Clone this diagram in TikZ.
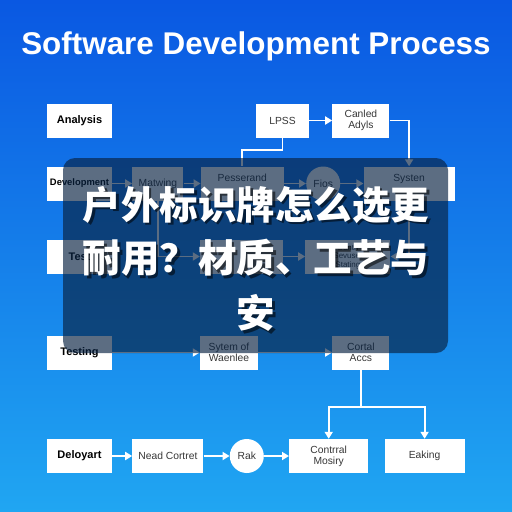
\documentclass[tikz,border=0pt]{standalone}
\usepackage{fontspec}
\setmainfont{Liberation Sans}
\newfontfamily\cjk{Noto Sans CJK SC}
\usepackage{xcolor}
\usetikzlibrary{arrows.meta,positioning,calc}
\definecolor{bgtop}{RGB}{10,88,226}
\definecolor{bgbot}{RGB}{32,166,242}
\definecolor{veil}{RGB}{8,34,66}
\definecolor{ink}{RGB}{55,55,55}
\tikzset{
  blk/.style={fill=white, align=center, inner sep=1pt, minimum height=34pt, text=ink, font=\fontsize{10.3}{11.3}\selectfont},
  stage/.style={blk, text=black, minimum width=65pt, font=\bfseries\fontsize{11}{12}\selectfont},
  ev/.style={circle, fill=white, minimum size=34pt, inner sep=0pt, text=ink, font=\fontsize{10.3}{11.3}\selectfont},
  fl/.style={draw=white, line width=1.8pt, -{Triangle[length=7pt,width=8pt]}},
  ln/.style={draw=white, line width=1.8pt},
  zh/.style={font=\cjk\bfseries\fontsize{38.5}{40}\selectfont},
}
\begin{document}
\begin{tikzpicture}[x=1pt,y=-1pt]
\shade[top color=bgtop, bottom color=bgbot] (0,0) rectangle (512,512);
\useasboundingbox (0,0) rectangle (512,512);
\node[anchor=base, text=white, font=\bfseries\fontsize{31.4}{34}\selectfont] (title) at (256,54) {Software Development Process};
% stage column
\node[stage] (ana) at (79.5,120.5) {Analysis};
\node[stage, font=\bfseries\fontsize{9.4}{11}\selectfont] (dev) at (79.5,183.5) {Development};
\node[stage] (tst) at (79.5,256.5) {Test};
\node[stage] (tsg) at (79.5,352.5) {Testing};
\node[stage] (dep) at (79.5,456) {Deloyart};
% analysis row
\node[blk, minimum width=53pt] (lpss) at (282.5,120.5) {LPSS};
\node[blk, minimum width=57pt, right=23pt of lpss] (canl) {Canled\\Adyls};
% development row
\node[blk, minimum width=51pt, right=20pt of dev] (matw) {Matwing};
\node[blk, minimum width=83pt, right=17pt of matw] (pess) {Pesserand\\\phantom{P}};
\node[ev, right=22pt of pess] (fios) {Fios};
\node[blk, minimum width=91pt, right=23pt of fios] (syst) {Systen\\\phantom{D}};
% test row
\node[blk, minimum width=83pt] (tbx) at (241.5,256.5) {};
\node[blk, minimum width=85pt, right=22pt of tbx, font=\fontsize{8}{8.5}\selectfont] (ctrl) {Contrl\\Sevuset\\Stating};
% testing row
\node[blk, minimum width=58pt] (sysw) at (229,352.5) {Sytem of\\Waenlee};
\node[blk, minimum width=57pt, right=74pt of sysw] (cort) {Cortal\\Accs};
% deployment row
\node[blk, minimum width=71pt, right=20pt of dep] (nead) {Nead Cortret};
\node[ev, right=26pt of nead] (rak) {Rak};
\node[blk, minimum width=79pt, right=25pt of rak] (cmos) {Contrral\\Mosiry};
\node[blk, minimum width=80pt, right=16pt of cmos] (eak) {Eaking};
% connectors
\draw[fl] (lpss)--(canl);
\draw[ln] (lpss.south)--++(0,12) -| (pess.north);
\draw[fl] (canl.east) -| (syst.north);
\draw[fl] (dev)--(matw);
\draw[fl] (matw)--(pess);
\draw[fl] (pess)--(fios);
\draw[fl] (fios)--(syst);
\draw[fl] (matw.south) |- (tbx.west);
\draw[fl] (tbx)--(ctrl);
\draw[fl] (syst.south) |- (ctrl.east);
\draw[fl] (tsg)--(sysw);
\draw[fl] (sysw)--(cort);
\coordinate (split) at ($(cort.south)+(0,37)$);
\draw[ln] (cort.south)--(split);
\draw[fl] (split) -| (cmos.north);
\draw[fl] (split) -| (eak.north);
\draw[fl] (dep)--(nead);
\draw[fl] (nead)--(rak);
\draw[fl] (rak)--(cmos);
% caption veil
\fill[veil, fill opacity=0.66, rounded corners=12pt] (63,158) rectangle (448,353);
\node[zh, text=black, opacity=0.55] (zhAs) at (258.5,207.5) {户外标识牌怎么选更};
\node[zh, text=black, opacity=0.55] (zhBs) at (258.5,260.5) {耐用？材质、工艺与};
\node[zh, text=black, opacity=0.55] (zhCs) at (258.5,315.5) {安};
\node[zh, text=white] (zhA) at (256,205) {户外标识牌怎么选更};
\node[zh, text=white] (zhB) at (256,258) {耐用？材质、工艺与};
\node[zh, text=white] (zhC) at (256,313) {安};
\end{tikzpicture}
\end{document}
